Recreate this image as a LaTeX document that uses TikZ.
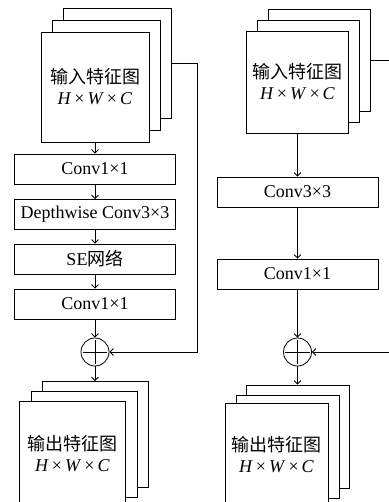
\documentclass[tikz,border=0pt]{standalone}
\usepackage{fontspec}
\setmainfont{Liberation Serif}
\newfontfamily\cjk{Noto Sans CJK SC}
\usetikzlibrary{arrows.meta}
\newcommand{\hwc}{\textit{H}\,×\,\textit{W}\,×\,\textit{C}}

\begin{document}
\begin{tikzpicture}[x=1pt,y=-1pt,line width=0.8pt,>={Straight Barb[length=3.5pt,width=7pt]}]
\tikzstyle{every node}+=[inner sep=0pt,font=\fontsize{18}{21}\selectfont]
\tikzstyle{sheet}=[draw=black,fill=white,align=center]
\tikzstyle{op}=[draw=black,fill=white,minimum width=161pt,minimum height=30pt]
\tikzstyle{sum}=[draw=black,fill=white,circle,minimum size=28pt]
\useasboundingbox (0,0) rectangle (388,502);
\node [sheet,minimum width=108pt,minimum height=110pt] (inL3) at (117.5,63.5) {};
\node [sheet,minimum width=108pt,minimum height=110pt] (inL2) at (106,75.5) {};
\node [sheet,minimum width=108pt,minimum height=110pt] (inL) at (95,87) {{\cjk 输入特征图}\\\hwc};
\node [op] (c1L) at (95,169) {Conv1×1};
\node [op] (dwL) at (95,214.5) {Depthwise Conv3×3};
\node [op] (seL) at (95,259) {SE{\cjk 网络}};
\node [op] (c2L) at (95,304) {Conv1×1};
\node [sum] (sumL) at (95,352) {};
\draw [shorten <=2pt,shorten >=2pt] (sumL.north) -- (sumL.south);
\draw [shorten <=2pt,shorten >=2pt] (sumL.west) -- (sumL.east);
\node [sheet,minimum width=106pt,minimum height=106pt] (outL3) at (95,434.5) {};
\node [sheet,minimum width=106pt,minimum height=106pt] (outL2) at (84,444.5) {};
\node [sheet,minimum width=106pt,minimum height=106pt] (outL) at (72.5,454) {{\cjk 输出特征图}\\\hwc};
\coordinate (skipL) at (197,352);
\draw [->] (inL) -- (c1L);
\draw [->] (c1L) -- (dwL);
\draw [->] (dwL) -- (seL);
\draw [->] (seL) -- (c2L);
\draw [->] (c2L) -- (sumL);
\draw [->] (sumL) -- (outL3);
\draw [->] (inL3.east) -| (skipL) -- (sumL.east);
\node [sheet,minimum width=102pt,minimum height=102pt] (inR3) at (319,60.5) {};
\node [sheet,minimum width=102pt,minimum height=102pt] (inR2) at (308,71) {};
\node [sheet,minimum width=102pt,minimum height=102pt] (inR) at (297.5,82) {{\cjk 输入特征图}\\\hwc};
\node [op] (c3R) at (297.5,192) {Conv3×3};
\node [op] (c1R) at (297.5,274) {Conv1×1};
\node [sum] (sumR) at (297.5,352) {};
\draw [shorten <=2pt,shorten >=2pt] (sumR.north) -- (sumR.south);
\draw [shorten <=2pt,shorten >=2pt] (sumR.west) -- (sumR.east);
\node [sheet,minimum width=103pt,minimum height=103pt] (outR3) at (297.5,436.5) {};
\node [sheet,minimum width=103pt,minimum height=103pt] (outR2) at (287.5,446.5) {};
\node [sheet,minimum width=103pt,minimum height=103pt] (outR) at (276.5,454.5) {{\cjk 输出特征图}\\\hwc};
\coordinate (skipR) at (400,352);
\draw [->] (inR) -- (c3R);
\draw [->] (c3R) -- (c1R);
\draw [->] (c1R) -- (sumR);
\draw [->] (sumR) -- (outR3);
\draw [->] (inR3.east) -| (skipR) -- (sumR.east);
\end{tikzpicture}
\end{document}
